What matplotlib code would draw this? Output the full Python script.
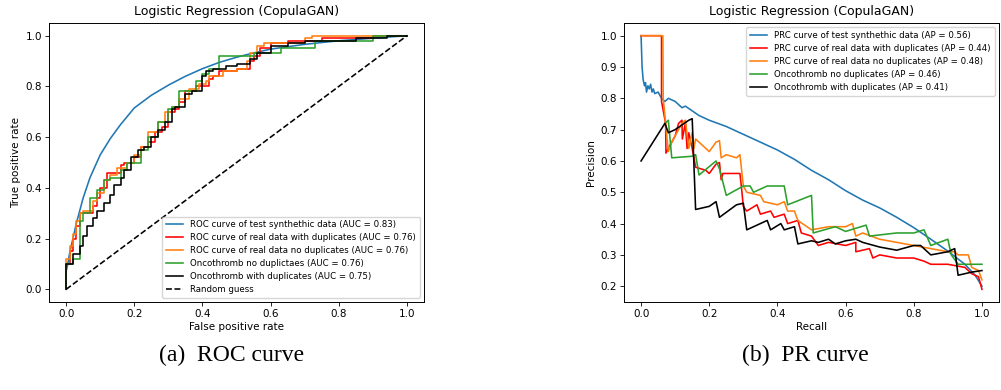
import matplotlib
matplotlib.use("Agg")
import matplotlib.pyplot as plt
import numpy as np

# ---------------- ROC data ----------------
roc_syn_fpr = [0, 0.0, 0.005, 0.01, 0.02, 0.03, 0.04, 0.05, 0.07, 0.1, 0.13, 0.16, 0.2, 0.25, 0.3, 0.35, 0.4, 0.45, 0.5, 0.55, 0.6, 0.7, 0.8, 0.9, 1.0]
roc_syn_tpr = [0, 0.07, 0.10, 0.14, 0.2, 0.26, 0.31, 0.36, 0.44, 0.53, 0.595, 0.65, 0.715, 0.765, 0.805, 0.84, 0.87, 0.895, 0.915, 0.932, 0.947, 0.966, 0.98, 0.99, 1.0]

roc_real_dup_fpr = [0, 0, 0.01, 0.02, 0.03, 0.04, 0.05, 0.08, 0.09, 0.1, 0.12, 0.14, 0.16, 0.17, 0.2, 0.22, 0.24, 0.26, 0.28, 0.3, 0.32, 0.33, 0.35, 0.38, 0.42, 0.43, 0.45, 0.5, 0.54, 0.55, 0.57, 0.6, 0.65, 0.7, 0.75, 0.9, 0.92, 1.0]
roc_real_dup_tpr = [0, 0.07, 0.10, 0.15, 0.2, 0.25, 0.30, 0.30, 0.33, 0.36, 0.40, 0.46, 0.46, 0.49, 0.50, 0.52, 0.56, 0.58, 0.62, 0.64, 0.70, 0.71, 0.74, 0.78, 0.80, 0.83, 0.84, 0.86, 0.87, 0.90, 0.92, 0.95, 0.97, 0.98, 0.98, 0.99, 1.0, 1.0]

roc_real_nodup_fpr = [0, 0, 0.01, 0.02, 0.03, 0.04, 0.05, 0.08, 0.09, 0.11, 0.13, 0.15, 0.18, 0.2, 0.22, 0.24, 0.25, 0.27, 0.29, 0.31, 0.33, 0.36, 0.39, 0.41, 0.42, 0.46, 0.5, 0.53, 0.54, 0.56, 0.58, 0.7, 0.72, 0.9, 1.0]
roc_real_nodup_tpr = [0, 0.08, 0.12, 0.17, 0.22, 0.27, 0.30, 0.31, 0.35, 0.38, 0.43, 0.45, 0.48, 0.50, 0.53, 0.56, 0.62, 0.62, 0.66, 0.70, 0.72, 0.75, 0.79, 0.81, 0.82, 0.84, 0.86, 0.87, 0.90, 0.93, 0.96, 0.97, 0.99, 1.0, 1.0]

roc_onco_nodup_fpr = [0, 0, 0.02, 0.04, 0.05, 0.07, 0.09, 0.11, 0.13, 0.16, 0.18, 0.22, 0.24, 0.27, 0.3, 0.31, 0.33, 0.35, 0.38, 0.4, 0.42, 0.45, 0.55, 0.6, 0.63, 0.65, 0.73, 0.75, 0.9, 0.95, 1.0]
roc_onco_nodup_tpr = [0, 0.08, 0.10, 0.12, 0.27, 0.30, 0.36, 0.39, 0.43, 0.44, 0.47, 0.50, 0.55, 0.60, 0.66, 0.71, 0.72, 0.78, 0.78, 0.82, 0.85, 0.87, 0.92, 0.93, 0.93, 0.95, 0.95, 0.98, 0.98, 1.0, 1.0]

roc_onco_dup_fpr = [0, 0, 0.02, 0.04, 0.05, 0.06, 0.08, 0.09, 0.11, 0.13, 0.14, 0.16, 0.17, 0.19, 0.21, 0.23, 0.25, 0.27, 0.29, 0.31, 0.32, 0.35, 0.37, 0.4, 0.41, 0.43, 0.47, 0.5, 0.54, 0.56, 0.6, 0.65, 0.7, 0.74, 0.85, 0.94, 0.95, 1.0]
roc_onco_dup_tpr = [0, 0.09, 0.10, 0.14, 0.17, 0.21, 0.25, 0.28, 0.31, 0.34, 0.37, 0.41, 0.44, 0.47, 0.52, 0.55, 0.56, 0.60, 0.63, 0.66, 0.71, 0.72, 0.77, 0.78, 0.84, 0.86, 0.87, 0.88, 0.89, 0.91, 0.93, 0.96, 0.97, 0.98, 0.98, 0.99, 1.0, 1.0]

roc_labels = [
    "ROC curve of test synthethic data (AUC = 0.83)",
    "ROC curve of real data with duplicates (AUC = 0.76)",
    "ROC curve of real data no duplicates (AUC = 0.76)",
    "Oncothromb no duplictaes (AUC = 0.76)",
    "Oncothromb with duplicates (AUC = 0.75)",
    "Random guess",
]

# ---------------- PR data ----------------
pr_syn_rec = [0.0, 0.003, 0.006, 0.01, 0.013, 0.016, 0.02, 0.024, 0.028, 0.032, 0.036, 0.04, 0.05, 0.06, 0.07, 0.08, 0.1, 0.12, 0.13, 0.15, 0.17, 0.2, 0.25, 0.3, 0.35, 0.4, 0.45, 0.5, 0.55, 0.6, 0.65, 0.7, 0.75, 0.8, 0.85, 0.9, 0.95, 0.98, 1.0]
pr_syn_prec = [1.0, 0.90, 0.86, 0.84, 0.85, 0.82, 0.84, 0.83, 0.845, 0.82, 0.83, 0.815, 0.82, 0.80, 0.79, 0.80, 0.79, 0.77, 0.775, 0.76, 0.745, 0.73, 0.71, 0.685, 0.66, 0.635, 0.605, 0.57, 0.54, 0.505, 0.475, 0.45, 0.42, 0.387, 0.35, 0.312, 0.27, 0.235, 0.20]

pr_real_dup_rec = [0.0, 0.06, 0.06, 0.072, 0.073, 0.08, 0.1, 0.11, 0.12, 0.121, 0.13, 0.135, 0.14, 0.15, 0.16, 0.19, 0.2, 0.22, 0.23, 0.235, 0.24, 0.29, 0.295, 0.3, 0.31, 0.34, 0.35, 0.38, 0.39, 0.42, 0.43, 0.46, 0.47, 0.5, 0.52, 0.55, 0.6, 0.63, 0.63, 0.67, 0.68, 0.7, 0.75, 0.8, 0.83, 0.85, 0.9, 0.95, 0.97, 0.99, 0.995, 1.0]
pr_real_dup_prec = [1.0, 1.0, 0.79, 0.72, 0.625, 0.64, 0.68, 0.72, 0.73, 0.67, 0.72, 0.64, 0.69, 0.64, 0.58, 0.57, 0.56, 0.59, 0.595, 0.54, 0.56, 0.56, 0.51, 0.455, 0.44, 0.46, 0.43, 0.44, 0.42, 0.43, 0.40, 0.41, 0.37, 0.36, 0.33, 0.34, 0.33, 0.34, 0.31, 0.32, 0.29, 0.30, 0.29, 0.29, 0.28, 0.27, 0.27, 0.26, 0.24, 0.23, 0.21, 0.19]

pr_real_nodup_rec = [0.0, 0.064, 0.065, 0.08, 0.09, 0.12, 0.13, 0.14, 0.15, 0.155, 0.16, 0.2, 0.22, 0.23, 0.235, 0.25, 0.28, 0.29, 0.3, 0.31, 0.35, 0.36, 0.4, 0.42, 0.43, 0.45, 0.46, 0.5, 0.55, 0.6, 0.62, 0.63, 0.65, 0.7, 0.75, 0.8, 0.85, 0.9, 0.92, 0.93, 0.96, 0.97, 0.99, 1.0]
pr_real_nodup_prec = [1.0, 1.0, 0.80, 0.63, 0.66, 0.72, 0.73, 0.64, 0.69, 0.64, 0.67, 0.63, 0.66, 0.665, 0.61, 0.62, 0.61, 0.62, 0.52, 0.50, 0.49, 0.47, 0.46, 0.47, 0.44, 0.44, 0.41, 0.38, 0.39, 0.39, 0.40, 0.36, 0.37, 0.35, 0.34, 0.33, 0.32, 0.31, 0.31, 0.30, 0.30, 0.26, 0.25, 0.22]

pr_onco_nodup_rec = [0.07, 0.08, 0.09, 0.15, 0.16, 0.17, 0.22, 0.23, 0.25, 0.3, 0.32, 0.33, 0.37, 0.42, 0.43, 0.5, 0.505, 0.57, 0.6, 0.66, 0.67, 0.75, 0.77, 0.8, 0.83, 0.85, 0.9, 0.91, 0.93, 0.95, 1.0]
pr_onco_nodup_prec = [0.72, 0.73, 0.61, 0.615, 0.62, 0.555, 0.60, 0.575, 0.49, 0.52, 0.52, 0.50, 0.52, 0.52, 0.46, 0.49, 0.37, 0.39, 0.375, 0.395, 0.36, 0.37, 0.37, 0.37, 0.38, 0.33, 0.35, 0.30, 0.27, 0.27, 0.27]

pr_onco_dup_rec = [0.0, 0.07, 0.08, 0.1, 0.14, 0.15, 0.16, 0.2, 0.22, 0.23, 0.28, 0.3, 0.31, 0.37, 0.38, 0.41, 0.42, 0.45, 0.46, 0.5, 0.52, 0.55, 0.57, 0.6, 0.63, 0.65, 0.7, 0.75, 0.8, 0.82, 0.85, 0.9, 0.92, 0.93, 0.97, 1.0]
pr_onco_dup_prec = [0.6, 0.72, 0.69, 0.70, 0.73, 0.735, 0.445, 0.455, 0.47, 0.42, 0.46, 0.465, 0.38, 0.41, 0.38, 0.40, 0.38, 0.39, 0.335, 0.345, 0.34, 0.35, 0.335, 0.345, 0.35, 0.34, 0.325, 0.315, 0.33, 0.33, 0.30, 0.31, 0.32, 0.235, 0.245, 0.25]

pr_labels = [
    "PRC curve of test synthethic data (AP = 0.56)",
    "PRC curve of real data with duplicates (AP = 0.44)",
    "PRC curve of real data no duplicates (AP = 0.48)",
    "Oncothromb no duplicates (AP = 0.46)",
    "Oncothromb with duplicates (AP = 0.41)",
]

captions = ["(a)  ROC curve", "(b)  PR curve"]

colors = ["#1f77b4", "red", "#ff7f0e", "#2ca02c", "black"]

FS = 7.5
LFS = 6.2
lw = 1.15

fig = plt.figure(figsize=(10.01, 3.9), dpi=100)
ax1 = fig.add_axes([0.049, 0.2256, 0.3746, 0.7154])
ax2 = fig.add_axes([0.6234, 0.2256, 0.3746, 0.7154])

# ROC
ax1.plot(roc_syn_fpr, roc_syn_tpr, color=colors[0], lw=lw, label=roc_labels[0])
ax1.plot(roc_real_dup_fpr, roc_real_dup_tpr, color=colors[1], lw=lw, drawstyle="steps-pre", label=roc_labels[1])
ax1.plot(roc_real_nodup_fpr, roc_real_nodup_tpr, color=colors[2], lw=lw, drawstyle="steps-pre", label=roc_labels[2])
ax1.plot(roc_onco_nodup_fpr, roc_onco_nodup_tpr, color=colors[3], lw=lw, drawstyle="steps-pre", label=roc_labels[3])
ax1.plot(roc_onco_dup_fpr, roc_onco_dup_tpr, color=colors[4], lw=lw, drawstyle="steps-pre", label=roc_labels[4])
ax1.plot([0, 1], [0, 1], "k--", lw=lw, label=roc_labels[5])
ax1.set_title("Logistic Regression (CopulaGAN)", fontsize=9)
ax1.set_xlabel("False positive rate", fontsize=FS, labelpad=2)
ax1.set_ylabel("True positive rate", fontsize=FS, labelpad=3)
ax1.set_xticks(np.arange(0, 1.01, 0.2))
ax1.set_yticks(np.arange(0, 1.01, 0.2))
ax1.tick_params(labelsize=FS, length=2.6, width=0.6, pad=2.5)
ax1.legend(loc="lower right", fontsize=LFS, handlelength=2.0, borderpad=0.45, labelspacing=0.45)

# PR
ax2.plot(pr_syn_rec, pr_syn_prec, color=colors[0], lw=lw, label=pr_labels[0])
ax2.plot(pr_real_dup_rec, pr_real_dup_prec, color=colors[1], lw=lw, label=pr_labels[1])
ax2.plot(pr_real_nodup_rec, pr_real_nodup_prec, color=colors[2], lw=lw, label=pr_labels[2])
ax2.plot(pr_onco_nodup_rec, pr_onco_nodup_prec, color=colors[3], lw=lw, label=pr_labels[3])
ax2.plot(pr_onco_dup_rec, pr_onco_dup_prec, color=colors[4], lw=lw, label=pr_labels[4])
ax2.set_title("Logistic Regression (CopulaGAN)", fontsize=9)
ax2.set_xlabel("Recall", fontsize=FS, labelpad=2)
ax2.set_ylabel("Precision", fontsize=FS, labelpad=3)
ax2.set_xticks(np.arange(0, 1.01, 0.2))
ax2.set_yticks(np.arange(0.2, 1.01, 0.1))
ax2.tick_params(labelsize=FS, length=2.6, width=0.6, pad=2.5)
ax2.legend(loc="upper right", fontsize=LFS, handlelength=2.0, borderpad=0.45, labelspacing=0.45)

for ax in (ax1, ax2):
    for s in ax.spines.values():
        s.set_linewidth(0.7)

fig.text(0.231, 0.088, captions[0], ha="center", va="center", fontsize=17, family="Liberation Serif")
fig.text(0.805, 0.088, captions[1], ha="center", va="center", fontsize=17, family="Liberation Serif")

fig.savefig("out.png", dpi=100)
